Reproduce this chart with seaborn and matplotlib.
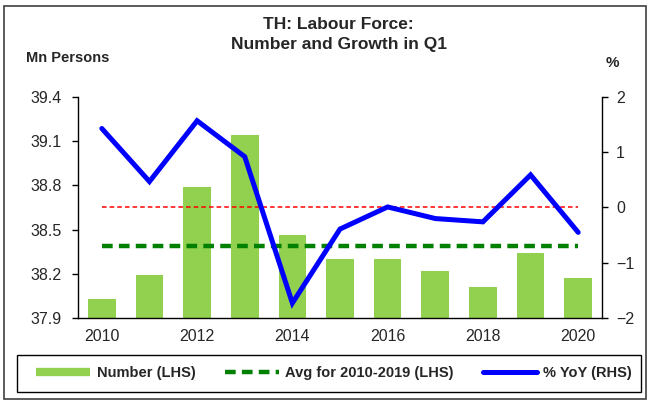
import numpy as np
import pandas as pd
import matplotlib
matplotlib.use('Agg')
import matplotlib.pyplot as plt
import seaborn as sns
from matplotlib.lines import Line2D
from matplotlib.patches import Rectangle
from matplotlib.ticker import FixedLocator, FormatStrFormatter

years = [2010, 2011, 2012, 2013, 2014, 2015, 2016, 2017, 2018, 2019, 2020]
number_mn = [38.03, 38.19, 38.79, 39.14, 38.46, 38.30, 38.30, 38.22, 38.11, 38.34, 38.17]
yoy_pct = [1.43, 0.47, 1.57, 0.92, -1.73, -0.39, 0.01, -0.20, -0.26, 0.59, -0.45]
avg_2010_2019 = float(np.mean(number_mn[:10]))
xtick_labels = ['2010', '', '2012', '', '2014', '', '2016', '', '2018', '', '2020']
left_ticks = [37.9, 38.2, 38.5, 38.8, 39.1, 39.4]
right_ticks = [-2, -1, 0, 1, 2]

bar_col = '#92D050'
avg_col = '#008000'
yoy_col = '#0000FF'

sns.set_style('white')
plt.rcParams['font.family'] = ['Liberation Sans', 'DejaVu Sans']

df = pd.DataFrame({'year': years, 'number': number_mn, 'yoy': yoy_pct})
df['pos'] = np.arange(len(years))

fig = plt.figure(figsize=(6.49, 4.01), dpi=100)
ax = fig.add_axes([0.1202, 0.2070, 0.8074, 0.5511])

# bars + average line on the left axis
sns.barplot(data=df, x='pos', y='number', color=bar_col, width=0.58,
            saturation=1, ax=ax, native_scale=True, edgecolor='none')
ax.plot([0, 10], [avg_2010_2019] * 2, color=avg_col, lw=3.2,
        dashes=(2.4, 1.4), solid_capstyle='butt', zorder=3)

ax.set_xlim(-0.5, 10.5)
ax.set_ylim(37.9, 39.4)
ax.yaxis.set_major_locator(FixedLocator(left_ticks))
ax.yaxis.set_major_formatter(FormatStrFormatter('%.1f'))
ax.xaxis.set_major_locator(FixedLocator(df['pos']))
ax.set_xticklabels(xtick_labels)
ax.xaxis.set_minor_locator(FixedLocator(np.arange(-0.5, 11, 1)))
ax.tick_params(axis='x', which='major', length=0, pad=8, labelsize=11.5)
ax.tick_params(axis='x', which='minor', length=4, width=1, direction='out', color='black')
ax.tick_params(axis='y', length=4, width=1, direction='out', color='black',
               labelsize=11.5, left=True, pad=8)
ax.set_xlabel('')
ax.set_ylabel('')
for s in ['top', 'right']:
    ax.spines[s].set_visible(False)
for s in ['left', 'bottom']:
    ax.spines[s].set_color('black')
    ax.spines[s].set_linewidth(1)

# growth on the right axis
ax2 = ax.twinx()
ax2.plot([0, 10], [0, 0], color='#FF0000', lw=1.1, dashes=(3, 2), zorder=2)
sns.lineplot(data=df, x='pos', y='yoy', color=yoy_col, lw=3.6, ax=ax2,
             solid_joinstyle='miter', zorder=4)
ax2.set_ylim(-2, 2)
ax2.yaxis.set_major_locator(FixedLocator(right_ticks))
ax2.tick_params(axis='y', length=4, width=1, direction='out', color='black',
                labelsize=11.5, right=True, pad=6)
ax2.set_xlabel('')
ax2.set_ylabel('')
for s in ['top', 'left', 'bottom']:
    ax2.spines[s].set_visible(False)
ax2.spines['right'].set_color('black')
ax2.spines['right'].set_linewidth(1)
ax2.set_xlim(-0.5, 10.5)

fig.text(0.522, 0.958, 'TH: Labour Force:\nNumber and Growth in Q1', ha='center', va='top',
         fontsize=12.5, fontweight='bold', linespacing=1.4)
fig.text(0.040, 0.855, 'Mn Persons', ha='left', va='center', fontsize=10.5, fontweight='bold')
fig.text(0.943, 0.843, '%', ha='center', va='center', fontsize=11, fontweight='bold')

handles = [Line2D([], [], color=bar_col, lw=6, solid_capstyle='butt'),
           Line2D([], [], color=avg_col, lw=3.2, dashes=(2.4, 1.4)),
           Line2D([], [], color=yoy_col, lw=3.6)]
labels = ['Number (LHS)', 'Avg for 2010-2019 (LHS)', '% YoY (RHS)']
leg = fig.legend(handles, labels, loc='center', ncol=3,
                 bbox_to_anchor=(0.515, 0.070), frameon=False,
                 handlelength=3.7, handletextpad=0.45, columnspacing=2.0,
                 prop={'weight': 'bold', 'size': 10.5})

fig.patches.append(Rectangle((17 / 649, 1 - 392 / 401), 624 / 649, 37 / 401,
                             transform=fig.transFigure, fill=False,
                             edgecolor='black', lw=1))
fig.patches.append(Rectangle((0.006, 0.004), 0.99, 0.982, transform=fig.transFigure,
                             fill=False, edgecolor='#404040', lw=1.2))

fig.savefig('out.png', dpi=100)
